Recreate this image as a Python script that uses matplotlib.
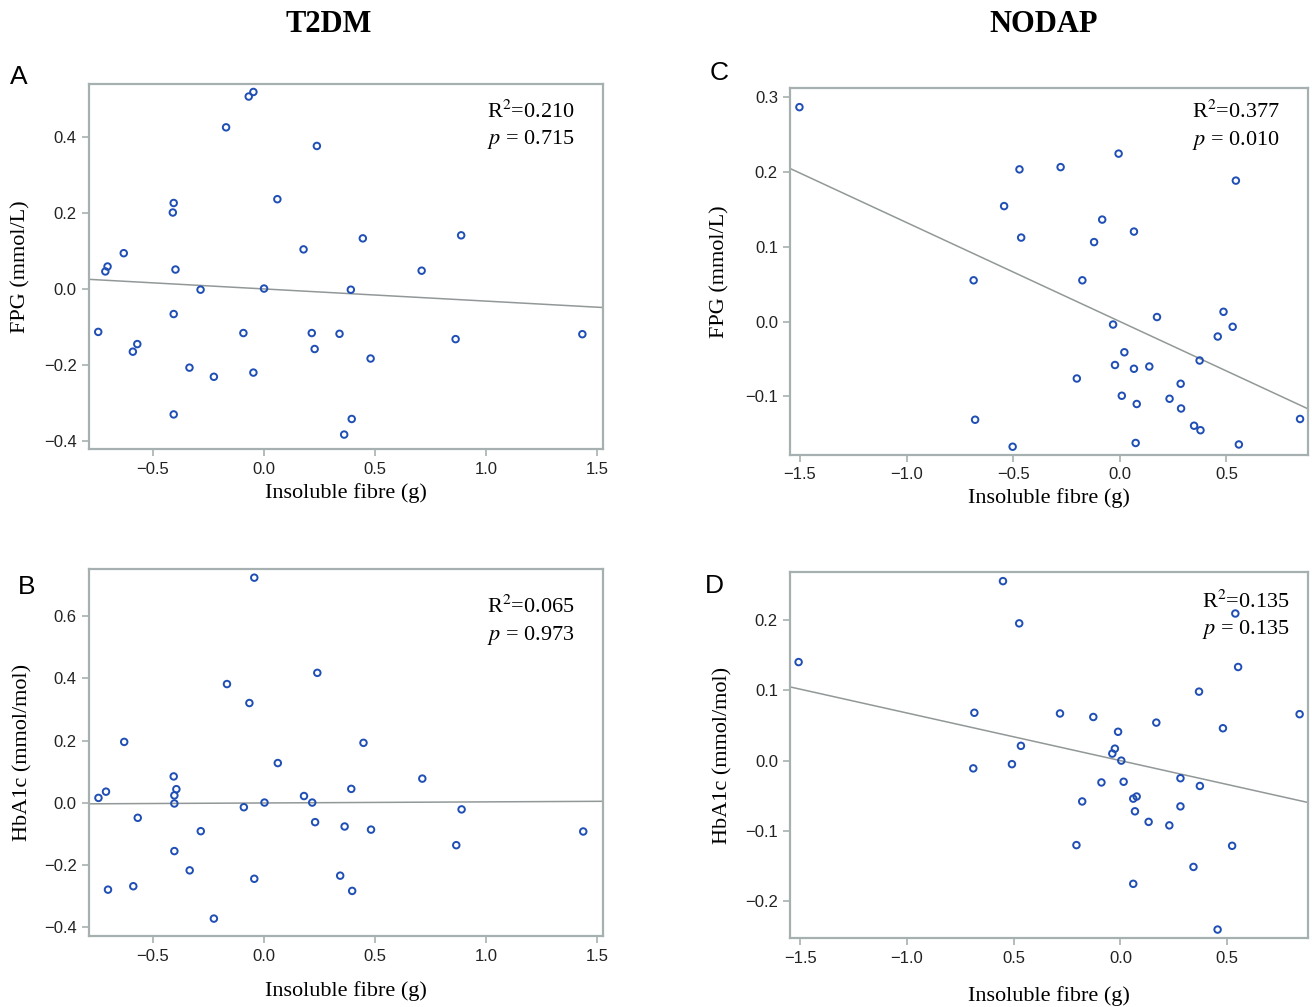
import matplotlib
matplotlib.use("Agg")
import numpy as np
import matplotlib.pyplot as plt

plt.rcParams["font.family"] = ["Liberation Sans", "DejaVu Sans"]
plt.rcParams["mathtext.fontset"] = "stix"

# --- data ---
# T2DM (panels A, B)
t2dm_fibre_a = [-0.747, -0.715, -0.705, -0.632, -0.591, -0.571, -0.407, -0.411, -0.399,
                -0.407, -0.407, -0.336, -0.286, -0.226, -0.171, -0.093, -0.069, -0.048,
                -0.048, 0.000, 0.060, 0.178, 0.215, 0.228, 0.238, 0.340, 0.361, 0.391,
                0.395, 0.445, 0.480, 0.710, 0.863, 0.888, 1.434]
t2dm_fpg = [-0.113, 0.046, 0.059, 0.094, -0.165, -0.145, 0.226, 0.201, 0.051,
            -0.066, -0.330, -0.207, -0.002, -0.231, 0.425, -0.116, 0.506, 0.518,
            -0.220, 0.001, 0.236, 0.104, -0.116, -0.158, 0.376, -0.118, -0.383, -0.002,
            -0.342, 0.133, -0.183, 0.048, -0.132, 0.141, -0.119]

t2dm_fibre_b = [-0.746, -0.712, -0.703, -0.630, -0.589, -0.569, -0.407, -0.395, -0.404,
                -0.404, -0.404, -0.335, -0.285, -0.226, -0.167, -0.091, -0.066, -0.044,
                -0.044, 0.002, 0.062, 0.180, 0.217, 0.230, 0.240, 0.343, 0.363, 0.393,
                0.397, 0.448, 0.482, 0.713, 0.866, 0.890, 1.438]
t2dm_hba1c = [0.016, 0.036, -0.279, 0.196, -0.268, -0.048, 0.085, 0.044, 0.024,
              -0.002, -0.155, -0.217, -0.091, -0.372, 0.382, -0.014, 0.321, 0.724,
              -0.244, 0.001, 0.128, 0.022, 0.001, -0.062, 0.418, -0.234, -0.076, 0.045,
              -0.283, 0.193, -0.086, 0.078, -0.136, -0.021, -0.092]

# NODAP (panels C, D)
nodap_fibre_c = [-1.503, -0.686, -0.679, -0.543, -0.503, -0.471, -0.463, -0.278, -0.202,
                 -0.176, -0.121, -0.083, -0.032, -0.023, -0.006, 0.009, 0.021, 0.066,
                 0.066, 0.074, 0.079, 0.138, 0.174, 0.233, 0.285, 0.287, 0.348, 0.374,
                 0.378, 0.459, 0.486, 0.529, 0.544, 0.558, 0.845]
nodap_fpg = [0.286, 0.055, -0.131, 0.154, -0.167, 0.203, 0.112, 0.206, -0.076,
             0.055, 0.106, 0.136, -0.004, -0.058, 0.224, -0.099, -0.041, 0.120,
             -0.063, -0.162, -0.110, -0.060, 0.006, -0.103, -0.083, -0.116, -0.139, -0.052,
             -0.145, -0.020, 0.013, -0.007, 0.188, -0.164, -0.130]

nodap_fibre_d = [-1.507, -0.689, -0.684, -0.550, -0.508, -0.474, -0.466, -0.283, -0.206,
                 -0.179, -0.127, -0.089, -0.038, -0.026, -0.011, 0.004, 0.015, 0.060,
                 0.076, 0.068, 0.060, 0.132, 0.168, 0.229, 0.281, 0.281, 0.342, 0.368,
                 0.372, 0.455, 0.480, 0.523, 0.538, 0.551, 0.839]
nodap_hba1c = [0.140, -0.011, 0.068, 0.255, -0.005, 0.195, 0.021, 0.067, -0.120,
               -0.058, 0.062, -0.031, 0.010, 0.017, 0.041, 0.000, -0.030, -0.054,
               -0.051, -0.072, -0.175, -0.087, 0.054, -0.092, -0.025, -0.065, -0.151, 0.098,
               -0.036, -0.240, 0.046, -0.121, 0.209, 0.133, 0.066]

# fitted lines as drawn in the reference (intercept, slope)
fit_a = (0.000, -0.032)
fit_b = (-0.0003, 0.0035)
fit_c = (0.000, -0.132)
fit_d = (0.000, -0.0677)

stats_a = ("0.210", "0.715")
stats_b = ("0.065", "0.973")
stats_c = ("0.377", "0.010")
stats_d = ("0.135", "0.135")

t2dm_xticks = [-0.5, 0.0, 0.5, 1.0, 1.5]
t2dm_xticklabels = ["\u22120.5", "0.0", "0.5", "1.0", "1.5"]
nodap_xticks = [-1.5, -1.0, -0.5, 0.0, 0.5]
nodap_xticklabels_c = ["\u22121.5", "\u22121.0", "\u22120.5", "0.0", "0.5"]
nodap_xticklabels_d = ["\u22121.5", "\u22121.0", "0.5", "0.0", "0.5"]  # as printed

FRAME = "#a7b0b0"
DOT = "#1f4fb4"
LINE = "#929898"
SERIF = ["Liberation Serif", "DejaVu Serif"]
W, H = 1312, 1007


def panel(ax, x, y, fit, stats, xlim, ylim, xticks, xticklabels, yticks,
          ylabel, stat_pos, xlabelpad, ylabelx):
    ax.set_xlim(*xlim)
    ax.set_ylim(*ylim)
    xs = np.array(xlim)
    ax.plot(xs, fit[0] + fit[1] * xs, color=LINE, lw=1.1, zorder=1)
    ax.scatter(x, y, s=22, facecolors="none", edgecolors=DOT, linewidths=1.4, zorder=2)

    for s in ax.spines.values():
        s.set_color(FRAME)
        s.set_linewidth(1.6)
    ax.tick_params(colors=FRAME, labelcolor="#222222", length=5, width=1.2,
                   labelsize=12, pad=4)
    ax.set_xticks(xticks)
    ax.set_xticklabels(xticklabels)
    ax.set_yticks(yticks)
    ax.set_yticklabels([f"{v:.1f}".replace("-", "\u2212") for v in yticks])

    ax.set_xlabel("Insoluble fibre (g)", family=SERIF, fontsize=16, labelpad=xlabelpad)
    ax.set_ylabel(ylabel, family=SERIF, fontsize=16)
    ax.yaxis.set_label_coords(ylabelx, 0.5)

    r2, p = stats
    sx, sy1, sy2 = stat_pos
    ax.text(sx, sy1, "R$^2$=" + r2, transform=ax.transAxes, ha="right", va="center",
            family=SERIF, fontsize=16)
    ax.text(sx, sy2, "$p$ = " + p, transform=ax.transAxes, ha="right", va="center",
            family=SERIF, fontsize=16)


fig = plt.figure(figsize=(W / 100, H / 100), dpi=100)

ax_a = fig.add_axes([0.0681, 0.5541, 0.3915, 0.3625])
ax_b = fig.add_axes([0.0681, 0.0705, 0.3915, 0.3645])
ax_c = fig.add_axes([0.6025, 0.5482, 0.3944, 0.3640])
ax_d = fig.add_axes([0.6025, 0.0685, 0.3944, 0.3635])

panel(ax_a, t2dm_fibre_a, t2dm_fpg, fit_a, stats_a, (-0.787, 1.527), (-0.421, 0.539),
      t2dm_xticks, t2dm_xticklabels, [-0.4, -0.2, 0.0, 0.2, 0.4],
      "FPG (mmol/L)", (0.945, 0.923, 0.847), 5, -0.115)
panel(ax_b, t2dm_fibre_b, t2dm_hba1c, fit_b, stats_b, (-0.787, 1.527), (-0.428, 0.752),
      t2dm_xticks, t2dm_xticklabels, [-0.4, -0.2, 0.0, 0.2, 0.4, 0.6],
      "HbA1c (mmol/mol)", (0.945, 0.896, 0.820), 13, -0.111)
panel(ax_c, nodap_fibre_c, nodap_fpg, fit_c, stats_c, (-1.545, 0.882), (-0.178, 0.311),
      nodap_xticks, nodap_xticklabels_c, [-0.1, 0.0, 0.1, 0.2, 0.3],
      "FPG (mmol/L)", (0.946, 0.936, 0.859), 4, -0.117)
panel(ax_d, nodap_fibre_d, nodap_hba1c, fit_d, stats_d, (-1.545, 0.878), (-0.252, 0.268),
      nodap_xticks, nodap_xticklabels_d, [-0.2, -0.1, 0.0, 0.1, 0.2],
      "HbA1c (mmol/mol)", (0.965, 0.918, 0.842), 15, -0.113)

# panel letters and group titles (pixel positions from the top-left)
for letter, px, py in [("A", 10, 77), ("B", 18, 587), ("C", 710, 73), ("D", 705, 586)]:
    fig.text(px / W, 1 - py / H, letter, ha="left", va="center", fontsize=19)

fig.text(329 / W, 1 - 25 / H, "T2DM", ha="center", va="center",
         family=SERIF, fontweight="bold", fontsize=22)
fig.text(1044 / W, 1 - 25 / H, "NODAP", ha="center", va="center",
         family=SERIF, fontweight="bold", fontsize=22)

fig.savefig("out.png", dpi=100)
plt.close(fig)
